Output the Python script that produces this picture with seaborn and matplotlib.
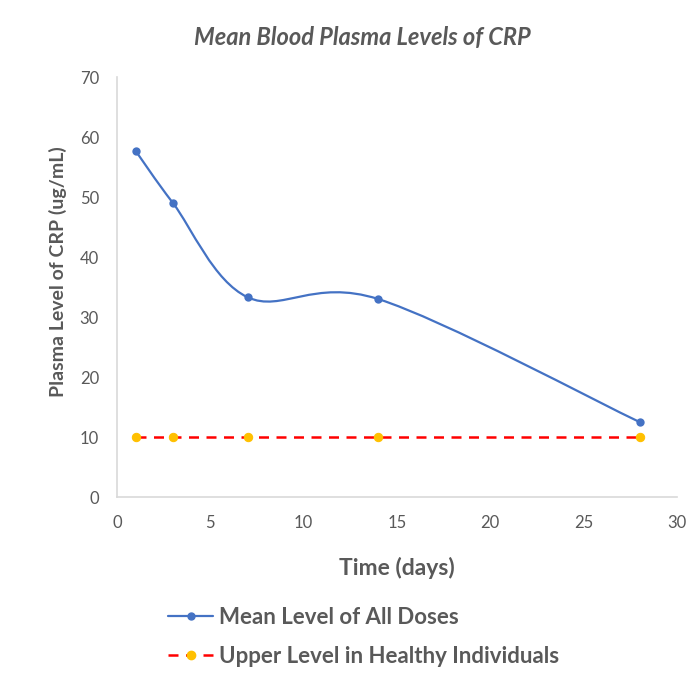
import numpy as np
import pandas as pd
import seaborn as sns
import matplotlib.pyplot as plt
from matplotlib.path import Path
from matplotlib.patches import PathPatch
from matplotlib.lines import Line2D

# Data
days = [1, 3, 7, 14, 28]
mean_level = [57.7, 49.0, 33.3, 33.0, 12.5]
upper_healthy = [10, 10, 10, 10, 10]

blue = "#4472C4"
red = "#FF0000"
gold = "#FFC000"
gray = "#595959"

sns.set_theme(style="white")
plt.rcParams["font.family"] = ["Lato", "DejaVu Sans"]

fig = plt.figure(figsize=(6.87, 6.74), dpi=100)
ax = fig.add_axes([0.1703, 0.2626, 0.815, 0.623])

# Excel style smoothed line (Catmull-Rom as cubic Bezier)
pts = np.column_stack([days, mean_level]).astype(float)
verts = [tuple(pts[0])]
codes = [Path.MOVETO]
n = len(pts)
for i in range(n - 1):
    p0 = pts[i - 1] if i > 0 else pts[i]
    p1 = pts[i]
    p2 = pts[i + 1]
    p3 = pts[i + 2] if i + 2 < n else pts[i + 1]
    c1 = p1 + (p2 - p0) / 6
    c2 = p2 - (p3 - p1) / 6
    verts += [tuple(c1), tuple(c2), tuple(p2)]
    codes += [Path.CURVE4] * 3
ax.add_patch(PathPatch(Path(verts, codes), fill=False, edgecolor=blue, lw=1.6,
                       capstyle="round", joinstyle="round"))

df = pd.DataFrame({"day": days, "mean": mean_level, "upper": upper_healthy})
sns.scatterplot(data=df, x="day", y="mean", ax=ax, color=blue, s=36,
                edgecolor=blue, linewidth=0, zorder=3)
sns.lineplot(data=df, x="day", y="upper", ax=ax, color=red, lw=1.8,
             dashes=(4, 3), marker="o", markersize=6,
             markerfacecolor=gold, markeredgecolor=gold, zorder=3)

ax.set_xlim(0, 30)
ax.set_ylim(0, 70)
ax.set_xticks(range(0, 31, 5))
ax.set_yticks(range(0, 71, 10))
ax.tick_params(axis="both", length=0, labelsize=12, labelcolor=gray)
ax.tick_params(axis="y", pad=13)
ax.tick_params(axis="x", pad=13)

for side in ["top", "right"]:
    ax.spines[side].set_visible(False)
for side in ["left", "bottom"]:
    ax.spines[side].set_color("#D9D9D9")
    ax.spines[side].set_linewidth(1.2)

ax.set_xlabel("Time (days)", fontsize=16.5, fontweight="bold", color=gray)
ax.set_ylabel("Plasma Level of CRP (ug/mL)", fontsize=14, fontweight="bold",
              color=gray)
ax.xaxis.set_label_coords(0.5, -0.143)
ax.yaxis.set_label_coords(-0.09, 0.536)
fig.text(0.527, 0.945, "Mean Blood Plasma Levels of CRP", ha="center", va="center",
         fontsize=17, style="italic", fontweight="bold", color="#595959")

handles = [
    Line2D([0], [0], color=blue, lw=1.6, marker="o", markersize=5,
           markerfacecolor=blue, markeredgecolor=blue),
    Line2D([0], [0], color=red, lw=1.8, dashes=(4, 3), marker="o", markersize=6,
           markerfacecolor=gold, markeredgecolor=gold),
]
fig.legend(handles, ["Mean Level of All Doses", "Upper Level in Healthy Individuals"],
           loc="upper left", bbox_to_anchor=(0.228, 0.116), frameon=False,
           borderpad=0, handlelength=2.05, handletextpad=0.27, labelspacing=0.8,
           prop={"size": 16, "weight": "bold"}, labelcolor=gray)

fig.savefig("out.png", dpi=100, facecolor="white")
